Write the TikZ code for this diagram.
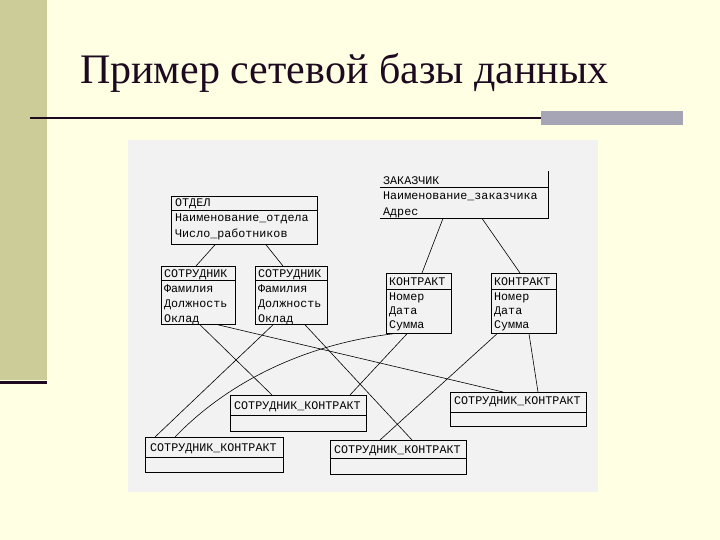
\documentclass[tikz,border=0pt]{standalone}
\usepackage{fontspec}
\setmainfont{Liberation Serif}
\newfontfamily\monof{Liberation Mono}
\usetikzlibrary{calc}
\definecolor{bgyel}{RGB}{255,255,228}
\definecolor{barol}{RGB}{204,204,153}
\definecolor{titlec}{RGB}{30,10,32}
\definecolor{rulegray}{RGB}{165,165,182}
\definecolor{scanbg}{RGB}{242,242,242}
\tikzset{
  boxn/.style={draw=black, line width=0.8pt, inner sep=0pt, anchor=north west},
  ghost/.style={inner sep=0pt, anchor=north west},
  tx/.style={inner sep=0pt, anchor=base west, font=\monof\fontsize{11.7}{13}\selectfont},
  conn/.style={draw=black, line width=0.6pt},
  sepl/.style={draw=black, line width=0.8pt}
}
\begin{document}
\begin{tikzpicture}[x=1pt,y=-1pt]
\useasboundingbox (0,0) rectangle (720,540);
\fill[bgyel] (0,0) rectangle (720,540);
\fill[barol] (0,0) rectangle (47,380);
\fill[titlec] (0,380.5) rectangle (47,384);
\node[anchor=base west, inner sep=0pt, text=titlec, font=\rmfamily\fontsize{42}{48}\selectfont] (title) at (80,84) {Пример сетевой базы данных};
\fill[titlec] (30,116.8) rectangle (541,119.4);
\fill[rulegray] (541,111) rectangle (683,125);
\fill[scanbg] (128,140) rectangle (598,492);

% boxes
\node[boxn, minimum width=146, minimum height=48] (otdel) at (171,196) {};
\draw[sepl] ($(otdel.north west)+(0,14)$) -- ($(otdel.north east)+(0,14)$);
\node[tx] (otdel-h) at (175,207) {ОТДЕЛ};
\node[tx] (otdel-1) at (175,222) {Наименование\_отдела};
\node[tx] (otdel-2) at (175,237.5) {Число\_работников};

\node[ghost, minimum width=168, minimum height=47] (zak) at (380,171) {};
\draw[sepl] (zak.north east) -- (zak.south east) -- (zak.south west);
\draw[sepl] ($(zak.north west)+(0,16)$) -- ($(zak.north east)+(0,16)$);
\node[tx] (zak-h) at (383,184.5) {ЗАКАЗЧИК};
\node[tx] (zak-1) at (383,200) {Наименование\_заказчика};
\node[tx] (zak-2) at (383,215) {Адрес};

\node[boxn, minimum width=74, minimum height=58] (sotr1) at (161,266) {};
\draw[sepl] ($(sotr1.north west)+(0,14)$) -- ($(sotr1.north east)+(0,14)$);
\node[tx] (sotr1-h) at (164,277.5) {СОТРУДНИК};
\node[tx] (sotr1-1) at (164,292.5) {Фамилия};
\node[tx] (sotr1-2) at (164,307) {Должность};
\node[tx] (sotr1-3) at (164,322) {Оклад};

\node[boxn, minimum width=72, minimum height=58] (sotr2) at (255,266) {};
\draw[sepl] ($(sotr2.north west)+(0,14)$) -- ($(sotr2.north east)+(0,14)$);
\node[tx] (sotr2-h) at (258,277.5) {СОТРУДНИК};
\node[tx] (sotr2-1) at (258,292.5) {Фамилия};
\node[tx] (sotr2-2) at (258,307) {Должность};
\node[tx] (sotr2-3) at (258,322) {Оклад};

\node[boxn, minimum width=65, minimum height=60] (kon1) at (386,273) {};
\draw[sepl] ($(kon1.north west)+(0,16)$) -- ($(kon1.north east)+(0,16)$);
\node[tx] (kon1-h) at (389,285.5) {КОНТРАКТ};
\node[tx] (kon1-1) at (389,300) {Номер};
\node[tx] (kon1-2) at (389,314.5) {Дата};
\node[tx] (kon1-3) at (389,328.5) {Сумма};

\node[boxn, minimum width=65, minimum height=60] (kon2) at (491,273) {};
\draw[sepl] ($(kon2.north west)+(0,16)$) -- ($(kon2.north east)+(0,16)$);
\node[tx] (kon2-h) at (494,285.5) {КОНТРАКТ};
\node[tx] (kon2-1) at (494,300) {Номер};
\node[tx] (kon2-2) at (494,314.5) {Дата};
\node[tx] (kon2-3) at (494,328.5) {Сумма};

\node[boxn, minimum width=136, minimum height=36] (skA) at (230,395) {};
\draw[sepl] ($(skA.north west)+(0,20)$) -- ($(skA.north east)+(0,20)$);
\node[tx] (skA-h) at (234,409) {СОТРУДНИК\_КОНТРАКТ};

\node[boxn, minimum width=138, minimum height=35] (skB) at (145,437) {};
\draw[sepl] ($(skB.north west)+(0,20)$) -- ($(skB.north east)+(0,20)$);
\node[tx] (skB-h) at (150,451) {СОТРУДНИК\_КОНТРАКТ};

\node[boxn, minimum width=136, minimum height=34] (skC) at (330,440) {};
\draw[sepl] ($(skC.north west)+(0,18)$) -- ($(skC.north east)+(0,18)$);
\node[tx] (skC-h) at (334,453) {СОТРУДНИК\_КОНТРАКТ};

\node[boxn, minimum width=136, minimum height=34] (skD) at (450,392) {};
\draw[sepl] ($(skD.north west)+(0,20)$) -- ($(skD.north east)+(0,20)$);
\node[tx] (skD-h) at (454,404) {СОТРУДНИК\_КОНТРАКТ};

% connectors
\draw[conn] ($(otdel.south west)+(44,0)$) -- ($(sotr1.north west)+(35,0)$);
\draw[conn] ($(otdel.south west)+(95,0)$) -- ($(sotr2.north west)+(28,0)$);
\draw[conn] ($(zak.south west)+(63,0)$) -- ($(kon1.north west)+(36,0)$);
\draw[conn] ($(zak.south west)+(102,0)$) -- ($(kon2.north west)+(29,0)$);
\draw[conn] ($(sotr1.south west)+(39,0)$) -- ($(skA.north west)+(42,0)$);
\draw[conn] ($(sotr1.south west)+(57,0)$) -- ($(skD.north west)+(53,0)$);
\draw[conn] ($(sotr2.south west)+(18,0)$) -- ($(skB.north west)+(10,0)$);
\draw[conn] ($(sotr2.south west)+(50,0)$) -- ($(skC.north west)+(82,0)$);
\draw[conn] ($(kon1.south west)+(7,0)$) .. controls (300,345) and (225,385) .. ($(skB.north west)+(30,0)$);
\draw[conn] ($(kon1.south west)+(21,0)$) -- ($(skA.north west)+(120,0)$);
\draw[conn] ($(kon2.south west)+(6,0)$) -- ($(skC.north west)+(50,0)$);
\draw[conn] ($(kon2.south west)+(38,0)$) -- ($(skD.north west)+(88,0)$);
\end{tikzpicture}
\end{document}
